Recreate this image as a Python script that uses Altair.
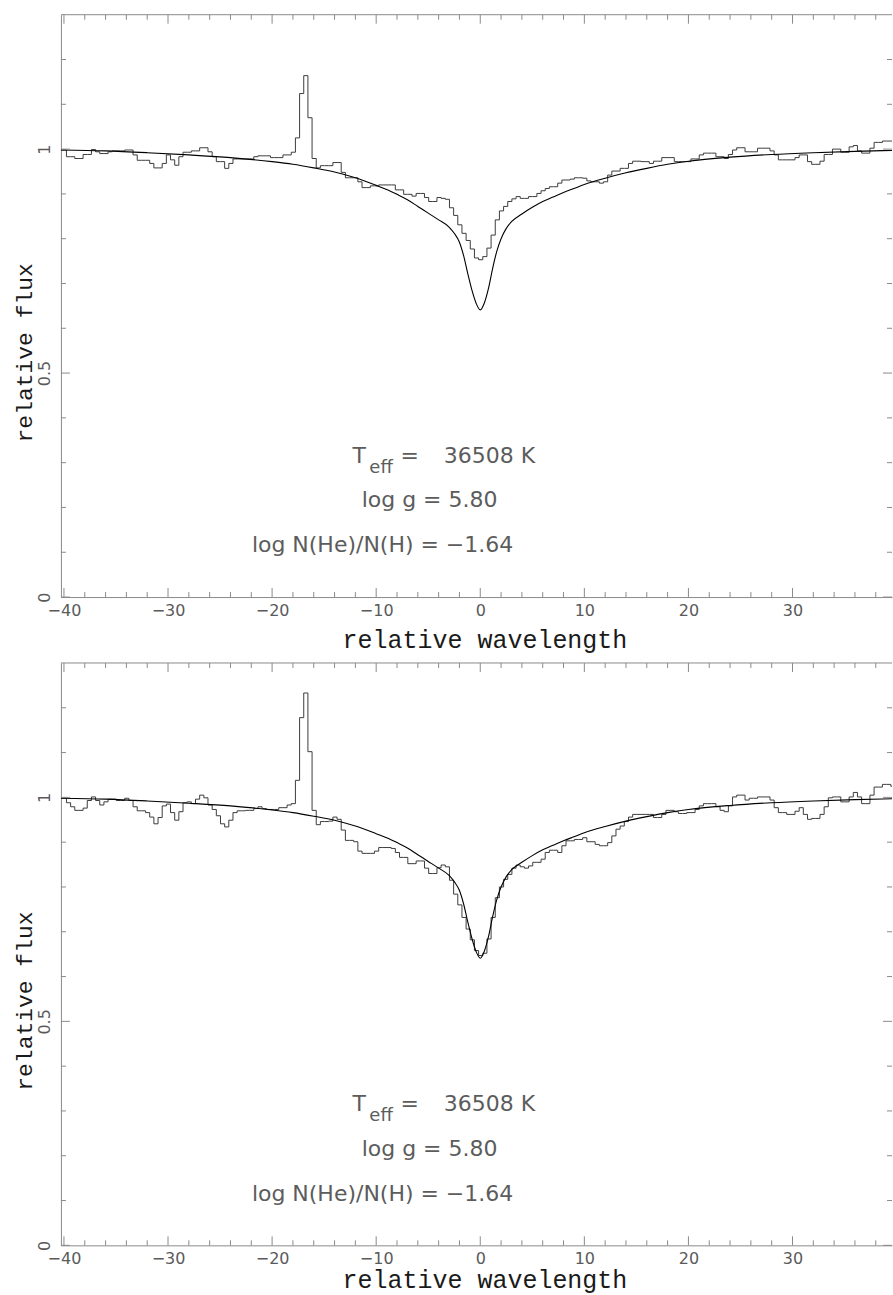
import altair as alt
import pandas as pd

# Observed spectra: one flux value per wavelength bin (bin centres BIN_START + i*BIN_WIDTH)
BIN_START = -40.36
BIN_WIDTH = 0.4

flux_top = [
    0.998, 0.998, 0.983, 0.983, 0.979, 0.979, 0.988, 0.988, 0.999, 0.994,
    0.990, 0.990, 0.994, 0.996, 0.996, 0.996, 0.998, 0.998, 0.987, 0.975,
    0.975, 0.975, 0.968, 0.958, 0.958, 0.968, 0.987, 0.976, 0.964, 0.983,
    0.993, 0.993, 0.996, 0.996, 1.003, 1.003, 0.994, 0.983, 0.972, 0.972,
    0.957, 0.968, 0.978, 0.978, 0.978, 0.978, 0.978, 0.983, 0.985, 0.985,
    0.985, 0.981, 0.981, 0.981, 0.987, 0.987, 0.993, 1.025, 1.124, 1.164,
    1.070, 0.979, 0.958, 0.963, 0.963, 0.963, 0.970, 0.970, 0.948, 0.936,
    0.936, 0.936, 0.927, 0.914, 0.914, 0.918, 0.918, 0.920, 0.920, 0.920,
    0.920, 0.909, 0.909, 0.899, 0.899, 0.895, 0.901, 0.901, 0.892, 0.883,
    0.883, 0.892, 0.890, 0.888, 0.869, 0.852, 0.831, 0.812, 0.796, 0.777,
    0.757, 0.753, 0.760, 0.779, 0.808, 0.842, 0.862, 0.872, 0.883, 0.889,
    0.894, 0.890, 0.890, 0.894, 0.894, 0.901, 0.907, 0.912, 0.916, 0.916,
    0.924, 0.931, 0.931, 0.933, 0.936, 0.936, 0.935, 0.929, 0.927, 0.927,
    0.924, 0.927, 0.942, 0.951, 0.951, 0.957, 0.957, 0.968, 0.973, 0.973,
    0.972, 0.972, 0.968, 0.973, 0.973, 0.981, 0.981, 0.981, 0.972, 0.972,
    0.972, 0.972, 0.978, 0.978, 0.987, 0.991, 0.991, 0.991, 0.983, 0.983,
    0.979, 0.988, 0.998, 1.003, 1.003, 0.994, 0.994, 0.994, 1.002, 1.002,
    1.002, 0.996, 0.987, 0.976, 0.976, 0.976, 0.976, 0.981, 0.987, 0.987,
    0.972, 0.966, 0.966, 0.973, 0.988, 0.988, 1.000, 1.000, 0.993, 0.993,
    1.005, 1.008, 0.996, 0.991, 0.991, 1.002, 1.015, 1.015, 1.018, 1.018,
    1.018,
]

flux_bottom = [
    0.999, 0.999, 0.988, 0.979, 0.971, 0.971, 0.976, 0.993, 1.001, 0.993,
    0.983, 0.990, 0.996, 0.996, 0.993, 0.993, 0.998, 0.993, 0.979, 0.970,
    0.970, 0.966, 0.956, 0.941, 0.955, 0.981, 0.985, 0.966, 0.949, 0.968,
    0.988, 0.990, 0.986, 0.996, 1.005, 0.999, 0.983, 0.973, 0.959, 0.941,
    0.934, 0.949, 0.966, 0.970, 0.970, 0.971, 0.971, 0.975, 0.979, 0.975,
    0.973, 0.973, 0.973, 0.977, 0.977, 0.983, 0.986, 1.038, 1.178, 1.233,
    1.102, 0.971, 0.939, 0.946, 0.946, 0.947, 0.956, 0.951, 0.927, 0.904,
    0.904, 0.901, 0.880, 0.875, 0.875, 0.875, 0.880, 0.888, 0.888, 0.888,
    0.886, 0.877, 0.866, 0.866, 0.852, 0.852, 0.858, 0.858, 0.842, 0.830,
    0.830, 0.843, 0.849, 0.845, 0.815, 0.784, 0.760, 0.732, 0.706, 0.682,
    0.658, 0.647, 0.652, 0.684, 0.732, 0.776, 0.800, 0.817, 0.828, 0.842,
    0.849, 0.845, 0.842, 0.847, 0.855, 0.855, 0.862, 0.877, 0.882, 0.882,
    0.877, 0.892, 0.903, 0.903, 0.906, 0.906, 0.910, 0.901, 0.901, 0.895,
    0.892, 0.892, 0.899, 0.914, 0.929, 0.936, 0.946, 0.956, 0.962, 0.962,
    0.962, 0.962, 0.962, 0.955, 0.955, 0.962, 0.971, 0.971, 0.968, 0.964,
    0.964, 0.966, 0.966, 0.973, 0.981, 0.986, 0.986, 0.986, 0.979, 0.971,
    0.968, 0.981, 1.001, 1.005, 1.005, 0.994, 0.998, 0.998, 1.001, 1.001,
    1.001, 0.994, 0.977, 0.966, 0.966, 0.962, 0.962, 0.969, 0.977, 0.962,
    0.951, 0.953, 0.953, 0.962, 0.979, 0.999, 1.001, 1.001, 0.990, 0.990,
    1.001, 1.011, 1.001, 0.986, 0.986, 1.005, 1.023, 1.023, 1.029, 1.029,
    1.025,
]

# Model line profile (same model in both panels)
model_wave = [
    -40.3, -36.0, -32.0, -28.0, -24.0, -20.0, -18.0, -16.0, -14.0, -12.0,
    -10.0, -9.0, -8.0, -7.0, -6.0, -5.0, -4.0, -3.0, -2.5, -2.0,
    -1.6, -1.2, -0.8, -0.4, 0.0, 0.4, 0.8, 1.2, 1.6, 2.0,
    2.5, 3.0, 4.0, 5.0, 6.0, 7.0, 8.0, 9.0, 10.0, 12.0,
    14.0, 16.0, 18.0, 20.0, 24.0, 28.0, 32.0, 36.0, 39.6,
]
model_flux = [
    0.998, 0.996, 0.992, 0.987, 0.981, 0.972, 0.966, 0.958, 0.949, 0.936,
    0.919, 0.910, 0.899, 0.887, 0.872, 0.857, 0.842, 0.826, 0.812, 0.792,
    0.762, 0.722, 0.685, 0.656, 0.641, 0.657, 0.690, 0.735, 0.773, 0.800,
    0.823, 0.838, 0.855, 0.870, 0.883, 0.893, 0.903, 0.912, 0.921, 0.935,
    0.947, 0.957, 0.966, 0.973, 0.982, 0.988, 0.992, 0.995, 0.997,
]

# Axis ticks
x_major = [-40, -30, -20, -10, 0, 10, 20, 30]
x_minor = [v for v in range(-38, 40, 2) if v % 10 != 0]
y_major = [0, 0.5, 1]
y_minor = [0.1, 0.2, 0.3, 0.4, 0.6, 0.7, 0.8, 0.9, 1.1, 1.2]

# Fit parameters printed inside each panel (centre positions, wavelength / flux units)
ann_text = ["T", "=", "36508 K", "log g = 5.80", "log N(He)/N(H) = \u22121.64"]
ann_x = [-11.64, -6.79, 0.88, -4.87, -9.39]
ann_y = [0.3, 0.3, 0.3, 0.2, 0.1]
sub_text = ["eff"]
sub_x = [-9.53]
sub_y = [0.3]

W, H = 832, 583
MAJOR, MINOR = 9, 5
AXIS_GREY = "#8a8a8a"
LABEL_GREY = "#5a5a5a"
TEXT_GREY = "#5c5c5c"
SANS = "DejaVu Sans"
MONO = "Liberation Mono"

x_scale = alt.Scale(domain=[-40.29, 39.56], nice=False, zero=False)
y_scale = alt.Scale(domain=[0, 1.3], nice=False, zero=False)


def make_axes(x_title_y):
    x_axis = alt.Axis(
        values=x_major, format="d", ticks=False, tickSize=0, grid=False,
        domainColor=AXIS_GREY, domainWidth=1,
        labelFont=SANS, labelFontSize=16, labelColor=LABEL_GREY,
        labelPadding=5, labelBaseline="top",
        title="relative wavelength", titleFont=MONO, titleFontSize=25,
        titleFontWeight="normal", titleColor="#1a1a1a",
        titleX=424, titleY=x_title_y, titleAlign="center", titleBaseline="alphabetic",
    )
    y_axis = alt.Axis(
        values=y_major, format="~g", ticks=False, tickSize=0, grid=False,
        domainColor=AXIS_GREY, domainWidth=1,
        labelFont=SANS, labelFontSize=16, labelColor=LABEL_GREY,
        labelAngle=270, labelAlign="center", labelBaseline="alphabetic",
        labelPadding=11,
        title="relative flux", titleFont=MONO, titleFontSize=23,
        titleFontWeight="normal", titleColor="#1a1a1a",
        titleAngle=270, titleX=-29, titleY=338, titleAlign="center",
        titleBaseline="alphabetic",
    )
    return x_axis, y_axis


def tick_rules(values, axis, length, x_axis, y_axis):
    df = pd.DataFrame({"t": values})
    base = alt.Chart(df).mark_rule(color=AXIS_GREY, strokeWidth=1)
    if axis == "x":
        enc = dict(x=alt.X("t:Q", scale=x_scale, axis=x_axis))
        return [
            base.encode(y=alt.value(H), y2=alt.value(H - length), **enc),
            base.encode(y=alt.value(0), y2=alt.value(length), **enc),
        ]
    enc = dict(y=alt.Y("t:Q", scale=y_scale, axis=y_axis))
    return [
        base.encode(x=alt.value(0), x2=alt.value(length), **enc),
        base.encode(x=alt.value(W), x2=alt.value(W - length), **enc),
    ]


def panel(flux, x_title_y):
    x_axis, y_axis = make_axes(x_title_y)
    obs = pd.DataFrame(
        {"wave": [BIN_START + BIN_WIDTH * i for i in range(len(flux))], "flux": flux}
    )
    mod = pd.DataFrame({"wave": model_wave, "flux": model_flux})

    def xy(xf, yf):
        return dict(
            x=alt.X(xf, scale=x_scale, axis=x_axis),
            y=alt.Y(yf, scale=y_scale, axis=y_axis),
        )

    observed = alt.Chart(obs).mark_line(
        interpolate="step", color="#3c3c3c", strokeWidth=1, clip=True
    ).encode(**xy("wave:Q", "flux:Q"))
    model = alt.Chart(mod).mark_line(
        interpolate="monotone", color="#000000", strokeWidth=1.1, clip=True
    ).encode(**xy("wave:Q", "flux:Q"))

    frame_top = alt.Chart(pd.DataFrame({"a": [0]})).mark_rule(
        color=AXIS_GREY, strokeWidth=1
    ).encode(x=alt.value(0), x2=alt.value(W), y=alt.value(0))

    ann = pd.DataFrame({"x": ann_x, "y": ann_y, "text": ann_text})
    labels = alt.Chart(ann).mark_text(
        align="center", baseline="alphabetic", font=SANS, fontSize=22, color=TEXT_GREY
    ).encode(text="text:N", **xy("x:Q", "y:Q"))
    sub = pd.DataFrame({"x": sub_x, "y": sub_y, "text": sub_text})
    sublabel = alt.Chart(sub).mark_text(
        align="center", baseline="alphabetic", font=SANS, fontSize=18,
        color=TEXT_GREY, dy=10,
    ).encode(text="text:N", **xy("x:Q", "y:Q"))

    layers = [observed, model, frame_top, labels, sublabel]
    layers += tick_rules(x_major, "x", MAJOR, x_axis, y_axis)
    layers += tick_rules(x_minor, "x", MINOR, x_axis, y_axis)
    layers += tick_rules(y_major, "y", MAJOR, x_axis, y_axis)
    layers += tick_rules(y_minor, "y", MINOR, x_axis, y_axis)
    return alt.layer(*layers).properties(width=W, height=H)


chart = alt.vconcat(
    panel(flux_top, 50), panel(flux_bottom, 42), spacing=10
).properties(
    padding={"left": 14, "top": 13, "right": 0, "bottom": 3}
).configure_view(strokeWidth=0)

chart.save("out.html", embed_options={"renderer": "svg", "actions": False})
